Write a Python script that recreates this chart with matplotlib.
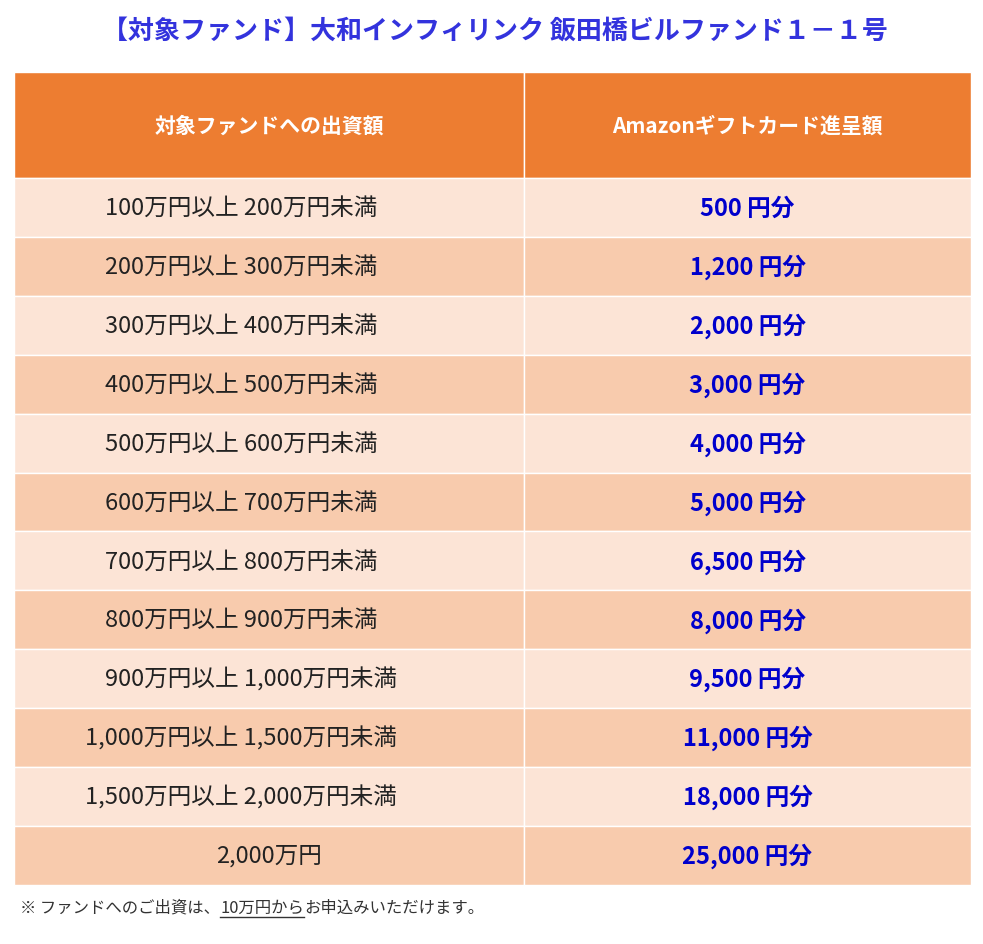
import matplotlib
matplotlib.use("Agg")
import matplotlib.pyplot as plt
from matplotlib.patches import Rectangle

plt.rcParams['font.family'] = ['Noto Sans CJK JP', 'DejaVu Sans']

title = '【対象ファンド】大和インフィリンク 飯田橋ビルファンド１－１号'
headers = ['対象ファンドへの出資額', 'Amazonギフトカード進呈額']
ranges = ['100万円以上 200万円未満', '200万円以上 300万円未満', '300万円以上 400万円未満',
          '400万円以上 500万円未満', '500万円以上 600万円未満', '600万円以上 700万円未満',
          '700万円以上 800万円未満', '800万円以上 900万円未満', '900万円以上 1,000万円未満',
          '1,000万円以上 1,500万円未満', '1,500万円以上 2,000万円未満', '2,000万円']
gifts = [500, 1200, 2000, 3000, 4000, 5000, 6500, 8000, 9500, 11000, 18000, 25000]
note_parts = ['※ ファンドへのご出資は、', '10万円から', 'お申込みいただけます。']

W, H = 983, 945
fig = plt.figure(figsize=(W / 100, H / 100), dpi=100)
ax = fig.add_axes([0, 0, 1, 1])
ax.set_xlim(0, W)
ax.set_ylim(H, 0)
ax.axis('off')

left, mid, right = 14, 524, 971
top, head_h, row_h = 73, 106, 58.9

light, dark = '#FCE4D6', '#F8CBAD'
orange = '#ED7D31'

# header
for x0, x1, txt in [(left, mid, headers[0]), (mid, right, headers[1])]:
    ax.add_patch(Rectangle((x0, top), x1 - x0, head_h, facecolor=orange,
                           edgecolor='white', linewidth=1))
    ax.text((x0 + x1) / 2, top + head_h / 2, txt, ha='center', va='center',
            color='white', fontsize=15, fontweight='bold')

# rows
for i, (r, g) in enumerate(zip(ranges, gifts)):
    y0 = top + head_h + i * row_h
    col = light if i % 2 == 0 else dark
    for x0, x1 in [(left, mid), (mid, right)]:
        ax.add_patch(Rectangle((x0, y0), x1 - x0, row_h, facecolor=col,
                               edgecolor='white', linewidth=1))
    if i == len(ranges) - 1:
        ax.text((left + mid) / 2, y0 + row_h / 2, r, ha='center', va='center',
                color='#222222', fontsize=17)
    else:
        ax.text(105 if i < 9 else 85, y0 + row_h / 2, r, ha='left', va='center',
                color='#222222', fontsize=17)
    ax.text((mid + right) / 2, y0 + row_h / 2, f'{g:,} 円分', ha='center',
            va='center', color='#0000CC', fontsize=17, fontweight='bold')

ax.text(495, 31, title, ha='center', va='center', color='#3333DD',
        fontsize=18.7, fontweight='bold')

# footnote with underlined middle part
fig.canvas.draw()
renderer = fig.canvas.get_renderer()
x = 20
ny = 908
inv = ax.transData.inverted()
for k, part in enumerate(note_parts):
    t = ax.text(x, ny, part, ha='left', va='center', color='#333333', fontsize=11.8)
    bb = t.get_window_extent(renderer)
    (bx0, by0), (bx1, by1) = inv.transform([[bb.x0, bb.y0], [bb.x1, bb.y1]])
    if k == 1:
        ax.plot([bx0, bx1], [ny + 10, ny + 10], color='#333333', linewidth=1)
    x = bx1

fig.savefig('out.png', dpi=100)
